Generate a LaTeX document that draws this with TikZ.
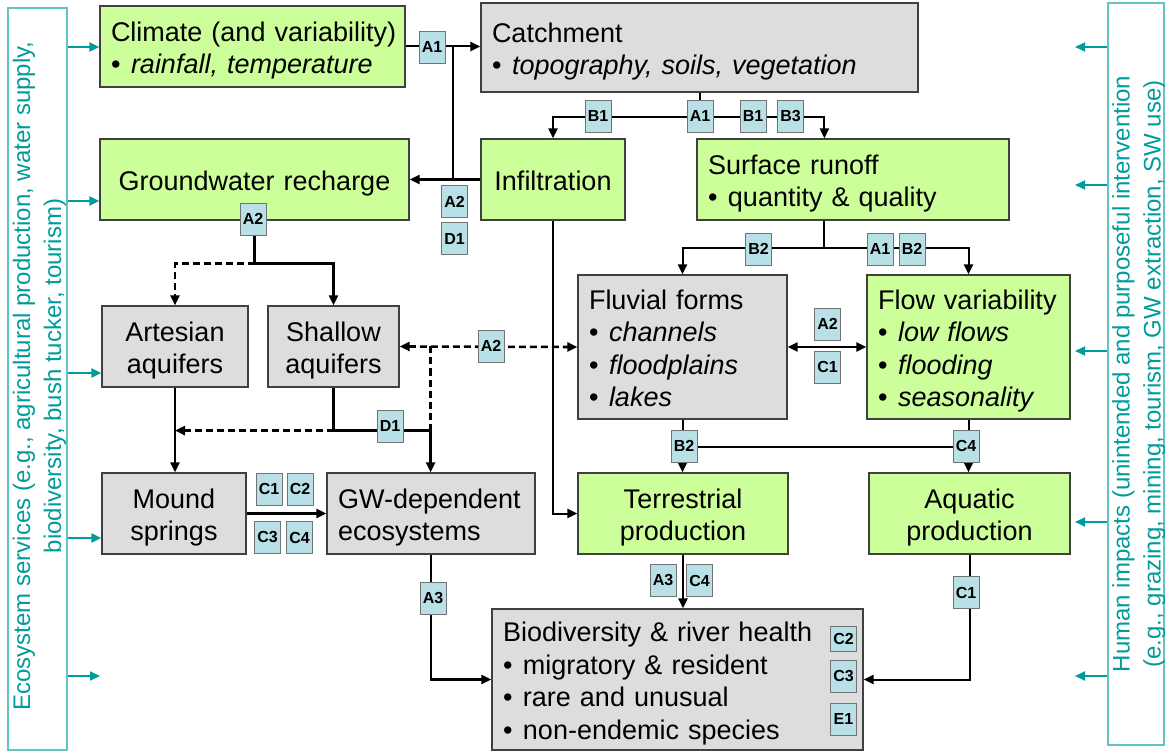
\documentclass[tikz,border=0pt]{standalone}
\usepackage{fontspec}
\setmainfont{Liberation Sans}
\usetikzlibrary{arrows.meta,calc}
\definecolor{grn}{RGB}{204,255,153}
\definecolor{gry}{RGB}{221,221,221}
\definecolor{lbl}{RGB}{185,224,230}
\definecolor{tealc}{RGB}{0,155,155}
\definecolor{tealb}{RGB}{100,195,195}
\newcommand{\bul}{\makebox[20pt][l]{\textbullet}}
\newcommand{\boxfont}{\fontsize{27}{32.5}\selectfont\hyphenpenalty=10000\relax\exhyphenpenalty=10000\relax}
\newcommand{\topstrut}{\rule{0pt}{30pt}}
\newcommand{\botstrut}{\rule[-8pt]{0pt}{8pt}}
\begin{document}
\begin{tikzpicture}[x=1pt,y=-1pt,
  box/.style={draw=black!75, line width=1.2pt, inner xsep=11pt, inner ysep=0pt,
    font=\boxfont, execute at begin node=\topstrut, execute at end node=\botstrut},
  gbox/.style={box, fill=grn},
  ybox/.style={box, fill=gry},
  lab/.style={draw=black!55, line width=0.8pt, fill=lbl, font=\fontsize{16}{16}\selectfont\bfseries, minimum width=26pt, minimum height=32pt, inner sep=0pt},
  tip/.style={-{Triangle[length=10pt,width=9pt]}},
  ln/.style={line width=2pt},
  gln/.style={line width=2.6pt},
  conn/.style={ln, tip},
  gconn/.style={gln, tip},
  dsh/.style={dash pattern=on 7pt off 4pt},
  side/.style={draw=tealb, line width=1.2pt},
  sidetext/.style={rotate=90, align=center, text=tealc, font=\fontsize{24}{31}\selectfont},
  tconn/.style={draw=tealc, line width=2pt, -{Triangle[length=10pt,width=9pt]}}
]
\useasboundingbox (0,0) rectangle (1165,751);

% side boxes
\node[side, minimum width=59pt, minimum height=742pt, inner sep=0pt] (es) at (37.5,379) {};
\node[sidetext] (estext) at (39.5,376) {Ecosystem services (e.g., agricultural production, water supply,\\ biodiversity, bush tucker, tourism)};
\node[side, minimum width=56pt, minimum height=742pt, inner sep=0pt] (hi) at (1136,374) {};
\node[sidetext] (hitext) at (1139,374) {Human impacts (unintended and purposeful intervention\\ (e.g., grazing, mining, tourism, GW extraction, SW use)};

% boxes
\node[gbox, text width=283pt, minimum height=81pt, align=left] (climate) at (252.5,46.5)
  {Climate~(and~variability)\\ \bul\textit{rainfall, temperature}};
\node[ybox, text width=415pt, minimum height=89pt, align=left] (catchment) at (699.5,47.5)
  {Catchment\\ \bul\textit{topography, soils, vegetation}};
\node[gbox, text width=287pt, minimum height=81pt, align=center] (gwr) at (254.5,179.5) {Groundwater recharge};
\node[gbox, text width=122pt, minimum height=81pt, align=center] (infil) at (553,179.5) {Infiltration};
\node[gbox, text width=290pt, minimum height=81pt, align=left] (surf) at (853,179.5)
  {Surface runoff\\ \bul quantity \& quality};
\node[ybox, text width=124pt, minimum height=81pt, align=center] (artes) at (175,346.5) {Artesian\\ aquifers};
\node[ybox, text width=109pt, minimum height=81pt, align=center] (shallow) at (333.5,346.5) {Shallow\\ aquifers};
\node[ybox, text width=187pt, minimum height=144pt, align=left] (fluvial) at (682.5,347)
  {Fluvial forms\\ \bul\textit{channels}\\ \bul\textit{floodplains}\\ \bul\textit{lakes}};
\node[gbox, text width=181pt, minimum height=144pt, align=left] (flowvar) at (968.5,347)
  {Flow variability\\ \bul\textit{low flows}\\ \bul\textit{flooding}\\ \bul\textit{seasonality}};
\node[ybox, text width=122pt, minimum height=81pt, align=center] (mound) at (174,513.5) {Mound\\ springs};
\node[ybox, text width=186pt, minimum height=81pt, align=left] (gwdep) at (431,513.5) {GW-dependent\\ ecosystems};
\node[gbox, text width=188pt, minimum height=81pt, align=center] (terr) at (683,513.5) {Terrestrial\\ production};
\node[gbox, text width=179pt, minimum height=81pt, align=center] (aqua) at (969.5,513.5) {Aquatic\\ production};
\node[ybox, text width=349pt, minimum height=141pt, align=left] (bio) at (677.5,679.5)
  {Biodiversity \& river health\\ \bul migratory \& resident\\ \bul rare and unusual\\ \bul non-endemic species};

% connectors: climate / catchment / infiltration
\coordinate (j1) at (453,46.5);
\draw[conn] (climate.east) -- (climate.east -| catchment.west);
\draw[ln] (j1) -- (j1 |- infil.west);
\draw[gconn] (infil.west) -- (gwr.east);

\coordinate (cb) at ($(catchment.south)+(0,24)$);
\coordinate (srin) at ($(surf.north west)+(128,0)$);
\draw[ln] (catchment.south) -- (cb);
\draw[conn] (cb) -| (infil.north);
\draw[conn] (cb) -| (srin);

\coordinate (sb) at ($(surf.south west)+(128,27)$);
\draw[ln] (sb |- surf.south) -- (sb);
\draw[conn] (sb) -| (fluvial.north);
\draw[conn] (sb) -| (flowvar.north);

\draw[ln, {Triangle[length=10pt,width=9pt]}-{Triangle[length=10pt,width=9pt]}] (fluvial.east) -- (flowvar.west);

\coordinate (fb) at ($(fluvial.south)+(0,27)$);
\draw[ln] (fluvial.south) -- (fb) -- (fb -| flowvar.south) -- (flowvar.south);
\draw[conn] (fb) -- (fb |- terr.north);
\draw[conn] (fb -| flowvar.south) -- (flowvar.south |- aqua.north);

\draw[conn] (terr.south) -- (terr.south |- bio.north);
\draw[conn] (aqua.south) |- (bio.east);
\draw[gconn] (gwdep.south) |- (bio.west);
\draw[conn] (infil.south) |- (terr.west);

% groundwater part
\coordinate (gb) at ($(gwr.south)+(0,43)$);
\draw[gln] (gwr.south) -- (gb);
\draw[gconn] (gb) -| (shallow.north);
\draw[gconn, dsh] (gb) -| (artes.north);

\draw[gln, dsh, {Triangle[length=10pt,width=9pt]}-{Triangle[length=10pt,width=9pt]}] (shallow.east) -- (fluvial.west);
\coordinate (dj) at ($(shallow.east)+(31,0)$);
\coordinate (sb2) at ($(shallow.south)+(0,43)$);
\draw[gln, dsh] (dj) -- (sb2 -| dj);
\draw[gln] (shallow.south) -- (sb2) -- (sb2 -| dj);
\draw[gconn] (sb2 -| dj) -- (dj |- gwdep.north);
\draw[gconn, dsh] (sb2) -- (sb2 -| artes.south);
\draw[gconn] (artes.south) -- (artes.south |- mound.north);
\draw[gconn] (mound.east) -- (gwdep.west);

% side arrows
\coordinate (l5) at (100,676);
\draw[tconn] (es.east |- 0,47) -- (climate.west |- 0,47);
\draw[tconn] (es.east |- 0,201) -- (gwr.west |- 0,201);
\draw[tconn] (es.east |- 0,373) -- (artes.west |- 0,373);
\draw[tconn] (es.east |- 0,538) -- (mound.west |- 0,538);
\draw[tconn] (es.east |- l5) -- (l5);
\coordinate (r1) at (1075,47);
\coordinate (r2) at (1075,185);
\coordinate (r3) at (1075,351);
\coordinate (r4) at (1075,522);
\coordinate (r5) at (1075,676);
\draw[tconn] (hi.west |- r1) -- (r1);
\draw[tconn] (hi.west |- r2) -- (r2);
\draw[tconn] (hi.west |- r3) -- (r3);
\draw[tconn] (hi.west |- r4) -- (r4);
\draw[tconn] (hi.west |- r5) -- (r5);

% labels
\node[lab] (la1) at (432,47) {A1};
\node[lab] (la2) at (454.5,201.5) {A2};
\node[lab] (ld1) at (454.5,238.5) {D1};
\node[lab] (lb1) at (598,116) {B1};
\node[lab] (la1b) at (700,116) {A1};
\node[lab] (lb1b) at (753,116) {B1};
\node[lab] (lb3) at (790.5,116) {B3};
\node[lab] (la2b) at (253,219) {A2};
\node[lab] (lb2) at (758.5,249) {B2};
\node[lab] (la1c) at (880,249) {A1};
\node[lab] (lb2b) at (912,249) {B2};
\node[lab] (la2c) at (827.5,324) {A2};
\node[lab] (lc1) at (827.5,367) {C1};
\node[lab] (la2d) at (491,346) {A2};
\node[lab] (ld1b) at (390,426) {D1};
\node[lab] (lb2c) at (684,446) {B2};
\node[lab] (lc4) at (966,446) {C4};
\node[lab] (lc1b) at (269,489) {C1};
\node[lab] (lc2) at (300,489) {C2};
\node[lab] (lc3) at (267.5,537.5) {C3};
\node[lab] (lc4b) at (299.5,537.5) {C4};
\node[lab] (la3) at (663,580.5) {A3};
\node[lab] (lc4c) at (699.5,580.5) {C4};
\node[lab] (la3b) at (433,598.5) {A3};
\node[lab] (lc1c) at (966,592.5) {C1};
\node[lab, minimum height=25pt] (lc2b) at (843.5,638.5) {C2};
\node[lab] (lc3b) at (843.5,676) {C3};
\node[lab] (le1) at (843.5,719) {E1};
\end{tikzpicture}
\end{document}
